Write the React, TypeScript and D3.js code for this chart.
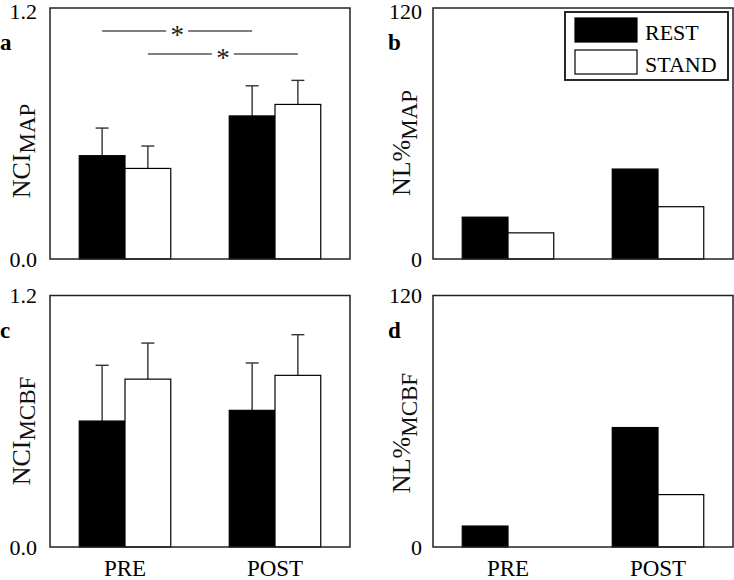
import React from "react";
import * as d3 from "d3";

const groups = ["PRE", "POST"];
const series = ["REST", "STAND"];

// Panel a: NCI_MAP (mean, upper error)
const nciMapRest = [0.494, 0.684];
const nciMapRestErr = [0.132, 0.144];
const nciMapStand = [0.433, 0.739];
const nciMapStandErr = [0.107, 0.115];

// Panel b: NL%_MAP
const nlMapRest = [20, 43];
const nlMapStand = [12.5, 25];

// Panel c: NCI_MCBF
const nciMcbfRest = [0.601, 0.652];
const nciMcbfRestErr = [0.266, 0.226];
const nciMcbfStand = [0.801, 0.819];
const nciMcbfStandErr = [0.172, 0.194];

// Panel d: NL%_MCBF
const nlMcbfRest = [10, 57];
const nlMcbfStand = [0, 25];

const nciTicks = ["0.0", "1.2"];
const nlTicks = ["0", "120"];

// significance brackets in panel a: [series, y-value]
const sigSeries = ["REST", "STAND"];
const sigLevels = [1.09, 0.98];

const FONT = "'Liberation Serif', 'Times New Roman', serif";

type PanelProps = {
  x0: number; x1: number; y0: number; y1: number;
  max: number;
  ticks: string[];
  rest: number[]; stand: number[];
  restErr?: number[]; standErr?: number[];
  letter: string;
  title: string; sub: string;
  titleX: number; titleY: number; subDy: number;
  tickGap: number;
  showX: boolean;
  sig?: boolean;
  legend?: boolean;
};

function Panel(p: PanelProps) {
  const y = d3.scaleLinear().domain([0, p.max]).range([p.y1, p.y0]);
  const xg = d3.scaleBand<string>().domain(groups).range([p.x0, p.x1]).paddingInner(0.39).paddingOuter(0.195);
  const xs = d3.scaleBand<string>().domain(series).range([0, xg.bandwidth()]);
  const vals: Record<string, number[]> = { REST: p.rest, STAND: p.stand };
  const errs: Record<string, number[] | undefined> = { REST: p.restErr, STAND: p.standErr };
  const cx = (g: string, s: string) => (xg(g) as number) + (xs(s) as number) + xs.bandwidth() / 2;
  return (
    <g>
      {groups.map((g, gi) =>
        series.map((s) => {
          const v = vals[s][gi];
          if (v <= 0) return null;
          const bx = (xg(g) as number) + (xs(s) as number);
          const e = errs[s];
          return (
            <g key={g + s}>
              {e && (
                <g stroke="#333" strokeWidth={1.4}>
                  <line x1={cx(g, s)} x2={cx(g, s)} y1={y(v)} y2={y(v + e[gi])} />
                  <line x1={cx(g, s) - 6.5} x2={cx(g, s) + 6.5} y1={y(v + e[gi])} y2={y(v + e[gi])} />
                </g>
              )}
              <rect x={bx} y={y(v)} width={xs.bandwidth()} height={p.y1 - y(v)}
                fill={s === "REST" ? "#000" : "#fff"} stroke="#000" strokeWidth={1.2} />
            </g>
          );
        })
      )}
      <rect x={p.x0} y={p.y0} width={p.x1 - p.x0} height={p.y1 - p.y0} fill="none" stroke="#222" strokeWidth={1.5} />
      <text x={p.x0 - p.tickGap} y={p.y1} dy="0.35em" textAnchor="end" fontSize={22} fontFamily={FONT}>{p.ticks[0]}</text>
      <text x={p.x0 - p.tickGap} y={p.y0 + (p.y0 < 20 ? 3 : 0)} dy="0.35em" textAnchor="end" fontSize={22} fontFamily={FONT}>{p.ticks[1]}</text>
      <text x={p.x0 - (p.x0 === 50 ? 50 : 45)} y={p.y0 + 42} fontSize={23} fontWeight="bold" fontFamily={FONT}>{p.letter}</text>
      <text transform={`translate(${p.titleX},${p.titleY}) rotate(-90)`} textAnchor="middle" fontFamily={FONT} fill="#111">
        <tspan fontSize={26}>{p.title}</tspan>
        <tspan fontSize={23} dy={p.subDy}>{p.sub}</tspan>
      </text>
      {p.showX && groups.map((g) => (
        <text key={g} x={(xg(g) as number) + xg.bandwidth() / 2} y={576} textAnchor="middle" fontSize={23} fontFamily={FONT}>{g}</text>
      ))}
      {p.sig && sigSeries.map((s, i) => {
        const a = cx("PRE", s);
        const b = cx("POST", s);
        const m = (a + b) / 2;
        const yy = y(sigLevels[i]);
        return (
          <g key={s}>
            <line x1={a} x2={m - 11} y1={yy} y2={yy} stroke="#555" strokeWidth={1.5} />
            <line x1={m + 11} x2={b} y1={yy} y2={yy} stroke="#555" strokeWidth={1.5} />
            <text x={m} y={yy + 13} textAnchor="middle" fontSize={27} fontFamily={FONT} fill="#222">*</text>
          </g>
        );
      })}
      {p.legend && (
        <g>
          <rect x={565} y={12} width={163} height={68} fill="#fff" stroke="#111" strokeWidth={1.8} />
          <rect x={575} y={18} width={62} height={24} fill="#000" stroke="#000" strokeWidth={1.2} />
          <rect x={575} y={50} width={62} height={24} fill="#fff" stroke="#000" strokeWidth={1.2} />
          <text x={645} y={39.5} fontSize={22} fontFamily={FONT}>{series[0]}</text>
          <text x={645} y={71.5} fontSize={22} fontFamily={FONT}>{series[1]}</text>
        </g>
      )}
    </g>
  );
}

export default function App() {
  return (
    <svg width={734} height={580} style={{ position: "absolute", left: 0, top: 0, background: "#fff" }}>
      <rect width={734} height={580} fill="#fff" />
      <Panel x0={50} x1={350} y0={8} y1={259} max={1.2} ticks={nciTicks}
        rest={nciMapRest} stand={nciMapStand} restErr={nciMapRestErr} standErr={nciMapStandErr}
        letter="a" title="NCI" sub="MAP" titleX={30} titleY={151} subDy={5} tickGap={13} showX={false} sig />
      <Panel x0={433} x1={733} y0={8} y1={259} max={120} ticks={nlTicks}
        rest={nlMapRest} stand={nlMapStand}
        letter="b" title="NL%" sub="MAP" titleX={410} titleY={143} subDy={7} tickGap={11} showX={false} legend />
      <Panel x0={50} x1={350} y0={295.5} y1={547} max={1.2} ticks={nciTicks}
        rest={nciMcbfRest} stand={nciMcbfStand} restErr={nciMcbfRestErr} standErr={nciMcbfStandErr}
        letter="c" title="NCI" sub="MCBF" titleX={30} titleY={431} subDy={5} tickGap={13} showX />
      <Panel x0={433} x1={733} y0={295.5} y1={547} max={120} ticks={nlTicks}
        rest={nlMcbfRest} stand={nlMcbfStand}
        letter="d" title="NL%" sub="MCBF" titleX={410} titleY={433} subDy={7} tickGap={11} showX />
    </svg>
  );
}
